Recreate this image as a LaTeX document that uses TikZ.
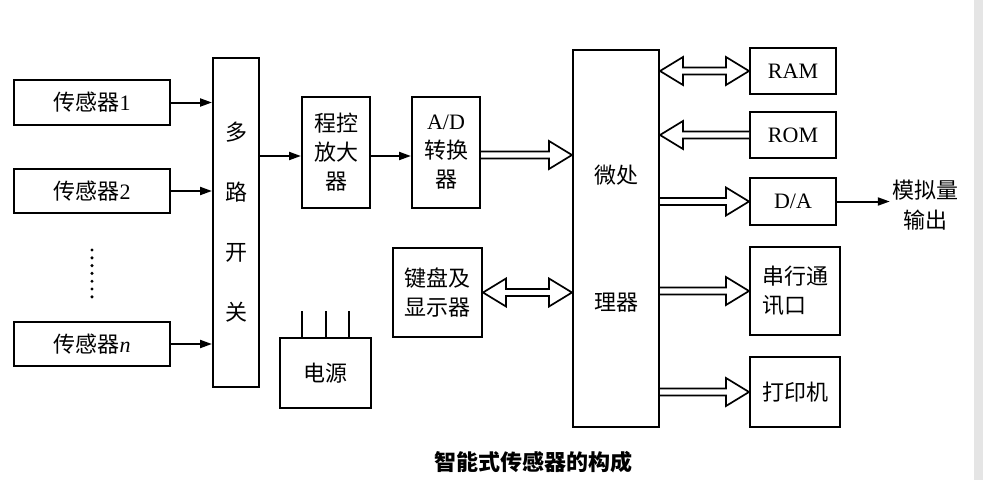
\documentclass[tikz,border=0pt]{standalone}
\usepackage{fontspec}
\setmainfont{Liberation Serif}
\newfontfamily\cjk{Noto Sans CJK SC}
\usetikzlibrary{calc,arrows.meta}

\tikzset{
	block/.style={draw, line width=2pt, fill=white, inner sep=0pt, align=center, font=\fontsize{22}{29}\selectfont},
	wire/.style={line width=2pt, -{Triangle[length=12pt,width=8pt]}},
	bus/.style={line width=1.7pt, fill=white, to path={let \p1=(\tikztostart), \p2=(\tikztotarget),
		\p3=($(\tikztotarget)!23pt!(\tikztostart)$) in
		(\x1,\y1+3.5pt) -- (\x3,\y1+3.5pt) -- (\x3,\y1+14pt) -- (\x2,\y2) -- (\x3,\y1-14pt) -- (\x3,\y1-3.5pt) -- (\x1,\y1-3.5pt)}},
	dbus/.style={line width=1.7pt, fill=white, to path={let \p1=(\tikztostart), \p2=(\tikztotarget),
		\p3=($(\tikztotarget)!23pt!(\tikztostart)$), \p4=($(\tikztostart)!23pt!(\tikztotarget)$) in
		(\x1,\y1) -- (\x4,\y1+14pt) -- (\x4,\y1+3.5pt) -- (\x3,\y1+3.5pt) -- (\x3,\y1+14pt) -- (\x2,\y2)
		-- (\x3,\y1-14pt) -- (\x3,\y1-3.5pt) -- (\x4,\y1-3.5pt) -- (\x4,\y1-14pt) -- cycle}},
}

\begin{document}
\begin{tikzpicture}[x=1pt,y=-1pt]
	\useasboundingbox (0,0) rectangle (983,480);
	\fill[gray!20] (974,0) rectangle (983,480);
	% sensors and switch
	\node[block, minimum width=156pt, minimum height=45pt] (s1) at (92,102.5) {{\cjk 传感器}1};
	\node[block, minimum width=156pt, minimum height=44pt] (s2) at (92,191) {{\cjk 传感器}2};
	\node[block, minimum width=156pt, minimum height=44pt] (sn) at (92,344) {{\cjk 传感器}\textit{n}};
	\foreach \i in {0,...,6} \fill (92,250+\i*7.8) circle (1.7pt);
	\node[block, minimum width=46pt, minimum height=329pt, font=\cjk\fontsize{22}{60}\selectfont] (mux) at (236,222.5) {多\\路\\开\\关};
	\draw[wire] (s1.east) -- (s1.east -| mux.west);
	\draw[wire] (s2.east) -- (s2.east -| mux.west);
	\draw[wire] (sn.east) -- (sn.east -| mux.west);
	% amplifier, converter, keyboard, power
	\node[block, minimum width=68pt, minimum height=111pt] (amp) at (336,152.5) {\cjk 程控\\\cjk 放大\\\cjk 器};
	\node[block, minimum width=68pt, minimum height=111pt] (ad) at (446,152.5) {A/D\\\cjk 转换\\\cjk 器};
	\node[block, minimum width=89pt, minimum height=89pt] (kb) at (437.5,292.5) {\cjk 键盘及\\\cjk 显示器};
	\node[block, minimum width=91pt, minimum height=70pt] (ps) at (325.5,373) {\cjk 电源};
	\foreach \f in {0.25,0.5,0.75}
		\draw[line width=2pt] ($(ps.north west)!\f!(ps.north east)$) -- ++(0,-26);
	\draw[wire] (mux.east |- 0,156) -- (amp.west |- 0,156);
	\draw[wire] (amp.east |- 0,156) -- (ad.west |- 0,156);
	% micro processor
	\node[block, minimum width=86pt, minimum height=377pt, font=\cjk\fontsize{22}{127}\selectfont] (mcu) at (616,238.5) {微处\\理器};
	\draw[bus] (ad.east |- 0,155) to (mcu.west |- 0,155);
	\draw[dbus] (kb.east) to (mcu.west |- kb.east);
	% peripherals
	\node[block, minimum width=86pt, minimum height=46pt] (ram) at (793,71) {RAM};
	\node[block, minimum width=86pt, minimum height=46pt] (rom) at (793,135) {ROM};
	\node[block, minimum width=86pt, minimum height=47pt] (da) at (793,201.5) {D/A};
	\node[block, minimum width=90pt, minimum height=88pt, align=left] (sci) at (795,291) {\cjk 串行通\\\cjk 讯口};
	\node[block, minimum width=90pt, minimum height=70pt] (prn) at (795,392) {\cjk 打印机};
	\node[align=center, inner sep=2pt, font=\cjk\fontsize{22}{30}\selectfont] (out) at (925,205) {模拟量\\输出};
	\draw[dbus] (mcu.east |- ram.west) to (ram.west);
	\draw[bus] (rom.west) to (mcu.east |- rom.west);
	\draw[bus] (mcu.east |- da.west) to (da.west);
	\draw[bus] (mcu.east |- sci.west) to (sci.west);
	\draw[bus] (mcu.east |- prn.west) to (prn.west);
	\draw[wire] (da.east) -- (da.east -| out.west);
	\node[font=\cjk\bfseries\fontsize{22}{25}\selectfont] (title) at (533,462) {智能式传感器的构成};
\end{tikzpicture}
\end{document}
